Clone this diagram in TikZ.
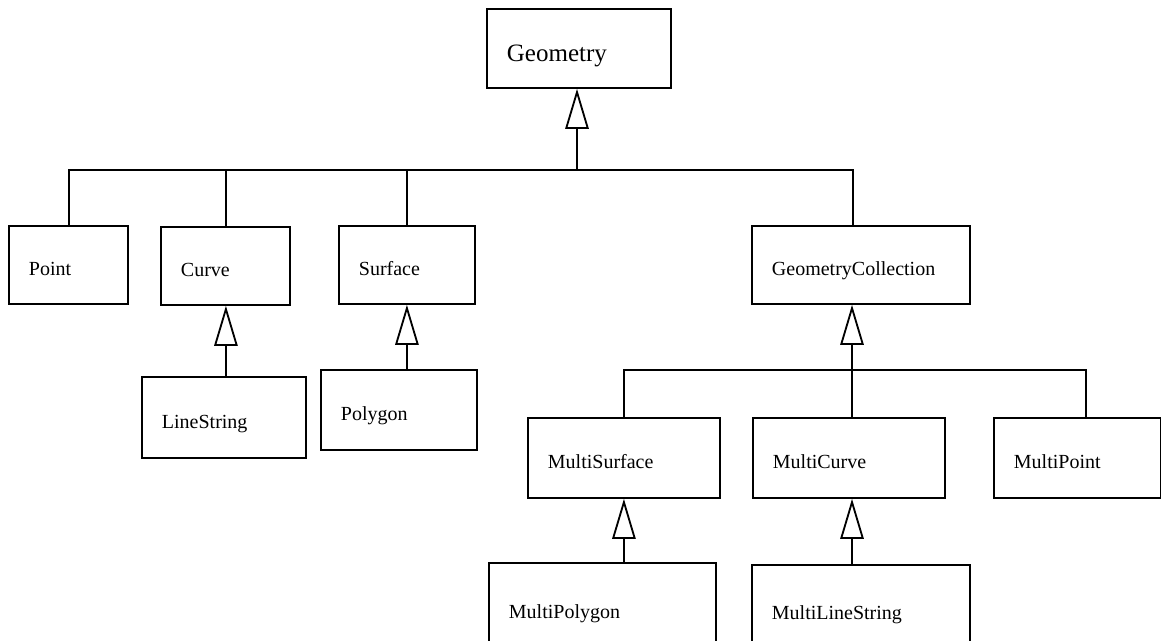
\documentclass[tikz,border=0pt]{standalone}
\usepackage{fontspec}
\setmainfont{Liberation Serif}
\usetikzlibrary{arrows.meta}
\tikzstyle{box} = [rectangle, draw=black, line width=1.1pt, anchor=north west, inner xsep=12pt, inner ysep=0pt, align=left, text height=13pt, text depth=0pt, font=\fontsize{12}{14}\selectfont]
\tikzstyle{link} = [line width=1.1pt]
\tikzstyle{inherit} = [line width=1.1pt, -{Triangle[open, length=24pt, width=14pt]}]

\begin{document}
\begin{tikzpicture}[x=0.6pt, y=-0.6pt]
    \clip (0,0) rectangle (1161,640);
    \node (geometry) [box, minimum width=110.4pt, minimum height=47.4pt, text width=86.4pt, text height=16pt, font=\fontsize{15}{17}\selectfont] at (486,8) {Geometry};
    \node (point) [box, minimum width=71.4pt, minimum height=46.8pt, text width=47.4pt] at (8,225) {Point};
    \node (curve) [box, minimum width=77.4pt, minimum height=46.8pt, text width=53.4pt] at (160,226) {Curve};
    \node (surface) [box, minimum width=81.6pt, minimum height=46.8pt, text width=57.6pt] at (338,225) {Surface};
    \node (gcoll) [box, minimum width=130.8pt, minimum height=46.8pt, text width=106.8pt] at (751,225) {GeometryCollection};
    \node (linestring) [box, minimum width=98.4pt, minimum height=48.6pt, text width=74.4pt] at (141,376) {LineString};
    \node (polygon) [box, minimum width=93.6pt, minimum height=48pt, text width=69.6pt] at (320,369) {Polygon};
    \node (msurface) [box, minimum width=115.2pt, minimum height=48pt, text width=91.2pt] at (527,417) {MultiSurface};
    \node (mcurve) [box, minimum width=115.2pt, minimum height=48pt, text width=91.2pt] at (752,417) {MultiCurve};
    \node (mpoint) [box, minimum width=100.2pt, minimum height=48pt, text width=76.2pt] at (993,417) {MultiPoint};
    \node (mpolygon) [box, minimum width=136.2pt, minimum height=54pt, text width=112.2pt] at (488,562) {MultiPolygon};
    \node (mlinestring) [box, minimum width=130.8pt, minimum height=52.8pt, text width=106.8pt] at (751,564) {MultiLineString};

    \coordinate (topbus) at (577,170);
    \coordinate (gcbus) at (852,370);

    % first level
    \draw[inherit] (topbus) -- (topbus |- geometry.south);
    \draw[link] ([xshift=0.3pt]point.north) |- (topbus) -| ([xshift=-4.8pt]gcoll.north);
    \draw[link] ([xshift=0.3pt]curve.north) -- ([xshift=0.3pt]curve.north |- topbus);
    \draw[link] (surface.north) -- (surface.north |- topbus);
    \draw[inherit] ([xshift=0.3pt]linestring.north -| curve.south) -- ([xshift=0.3pt]curve.south);
    \draw[inherit] (polygon.north -| surface.south) -- (surface.south);

    % collections
    \draw[inherit] (gcbus) -- (gcbus |- gcoll.south);
    \draw[link] (msurface.north) |- (gcbus) -| ([xshift=5pt]mpoint.north);
    \draw[link] (gcbus) -- (gcbus |- mcurve.north);
    \draw[inherit] (mpolygon.north -| msurface.south) -- (msurface.south);
    \draw[inherit] (mlinestring.north -| gcbus) -- (gcbus |- mcurve.south);
  \end{tikzpicture}
\end{document}
